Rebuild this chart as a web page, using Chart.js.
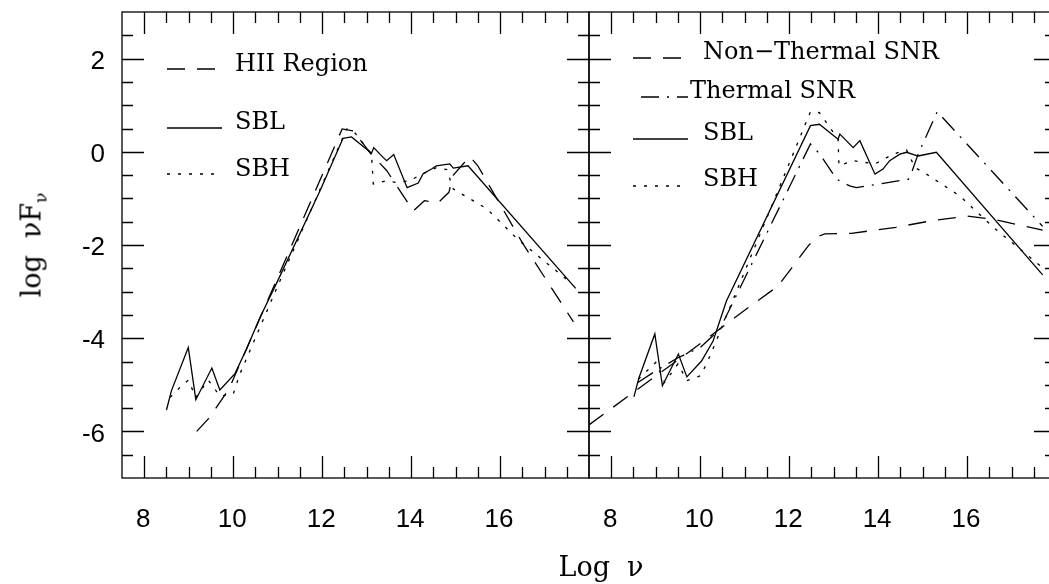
<!DOCTYPE html>
<html>
<head>
<meta charset="utf-8">
<script src="https://cdn.jsdelivr.net/npm/chart.js@4"></script>
<style>
html, body { margin: 0; padding: 0; background: #fff; overflow: hidden; }
#wrap { position: relative; width: 1049px; height: 584px; overflow: hidden; }
canvas { position: absolute; top: 0; }
#leftChart { left: 0; }
#rightChart { left: 578px; }
.title { position: absolute; font-family: "DejaVu Serif", serif; font-size: 27px; color: #000; white-space: pre; }
.title sub { font-size: 17px; vertical-align: -6px; }
#ytitle { left: 33px; top: 245px; transform: translate(-50%, -50%) rotate(-90deg); }
#xtitle { left: 601px; top: 566px; transform: translate(-50%, -50%); }
</style>
</head>
<body>
<div id="wrap">
  <canvas id="leftChart" width="600" height="584"></canvas>
  <canvas id="rightChart" width="490" height="584"></canvas>
  <div class="title" id="ytitle">log  νF<sub>ν</sub></div>
  <div class="title" id="xtitle">Log  ν</div>
</div>
<script>
// Left panel: HII region, SBL, SBH
const hiiX = [9.18, 9.45, 9.9, 11.0, 12.45, 12.7, 13.1, 13.45, 14.05, 14.3, 14.6, 14.85, 14.95, 15.32, 15.5, 16.5, 17.65];
const hiiY = [-6.0, -5.72, -5.1, -2.7, 0.49, 0.45, -0.05, -0.4, -1.27, -1.05, -1.1, -0.87, -0.5, -0.1, -0.3, -1.95, -3.65];

const sblLeftX = [8.5, 8.61, 8.99, 9.16, 9.52, 9.70, 10.04, 10.30, 10.60, 11.0, 11.95, 12.47, 12.66, 13.11, 13.16, 13.37, 13.45, 13.61, 13.91, 14.16, 14.27, 14.46, 14.57, 14.72, 14.87, 14.95, 15.28, 17.7];
const sblLeftY = [-5.54, -5.13, -4.2, -5.32, -4.64, -5.11, -4.76, -4.23, -3.56, -2.77, -0.84, 0.29, 0.32, -0.03, 0.09, -0.12, -0.19, -0.06, -0.77, -0.67, -0.47, -0.37, -0.3, -0.28, -0.26, -0.35, -0.3, -2.93];

const sbhLeftX = [8.58, 8.8, 8.99, 9.16, 9.44, 9.7, 10.0, 10.15, 10.6, 11.0, 12.55, 12.7, 13.11, 13.15, 13.45, 13.67, 13.97, 14.2, 14.57, 14.8, 14.95, 15.7, 16.4, 17.55];
const sbhLeftY = [-5.27, -5.06, -4.9, -5.27, -4.9, -5.24, -5.2, -4.77, -3.77, -2.88, 0.49, 0.45, -0.05, -0.69, -0.62, -0.66, -0.62, -0.5, -0.34, -0.38, -0.8, -1.22, -1.88, -2.78];

// Right panel: non-thermal SNR, thermal SNR, SBL, SBH
const ntX = [7.5, 8.5, 9.8, 11.0, 11.75, 12.43, 12.6, 12.8, 13.4, 14.4, 15.2, 16.0, 16.6, 17.7];
const ntY = [-5.86, -5.16, -4.26, -3.4, -2.88, -2.02, -1.84, -1.76, -1.75, -1.62, -1.48, -1.38, -1.45, -1.68];

const thX = [8.6, 9.0, 9.5, 10.0, 10.44, 12.48, 12.69, 13.07, 13.36, 13.51, 14.68, 14.77, 14.9, 15.33, 17.7];
const thY = [-4.95, -4.7, -4.42, -4.2, -3.81, 0.17, -0.05, -0.59, -0.73, -0.77, -0.59, -0.4, -0.05, 0.86, -1.6];

const sblRightX = [8.51, 8.62, 8.98, 9.15, 9.51, 9.70, 10.03, 10.29, 10.59, 12.48, 12.68, 13.10, 13.14, 13.44, 13.59, 13.93, 14.11, 14.26, 14.49, 14.64, 14.90, 15.31, 17.7];
const sblRightY = [-5.26, -4.86, -3.91, -5.02, -4.34, -4.83, -4.49, -4.06, -3.2, 0.56, 0.59, 0.27, 0.38, 0.09, 0.24, -0.48, -0.37, -0.19, -0.05, -0.01, -0.09, -0.01, -2.64];

const sbhRightX = [8.61, 9.0, 9.2, 9.5, 9.7, 10.0, 10.14, 10.33, 10.59, 12.48, 12.68, 13.1, 13.12, 13.44, 13.93, 14.34, 14.64, 14.83, 15.09, 15.84, 16.59, 17.69];
const sbhRightY = [-4.88, -4.52, -4.95, -4.55, -4.91, -4.81, -4.56, -4.13, -3.52, 0.86, 0.84, 0.27, -0.3, -0.19, -0.26, -0.05, 0.04, -0.34, -0.48, -0.95, -1.62, -2.48];

const xTickLabels = [8, 10, 12, 14, 16];
const yTickLabels = [-6, -4, -2, 0, 2];

function pts(xs, ys) {
    return xs.map((x, i) => ({ x: x, y: ys[i] }));
}

function line(label, xs, ys, dash) {
    return {
        label: label,
        data: pts(xs, ys),
        borderColor: '#000',
        borderWidth: 1.3,
        borderDash: dash,
        showLine: true,
        pointRadius: 0,
        tension: 0
    };
}

const DASH = [18, 12];
const DOT = [3, 8];
const DASHDOT = [18, 8, 2, 8];

// frame plus inward ticks on all four sides
const frameTicks = {
    id: 'frameTicks',
    afterDraw(chart) {
        const ctx = chart.ctx;
        const a = chart.chartArea;
        const x = chart.scales.x, y = chart.scales.y;
        ctx.save();
        ctx.strokeStyle = '#000';
        ctx.lineWidth = 1.3;
        ctx.setLineDash([]);
        ctx.strokeRect(a.left, a.top, a.right - a.left, a.bottom - a.top);
        ctx.beginPath();
        for (let v = x.min + 0.5; v < x.max; v += 0.5) {
            const px = Math.round(x.getPixelForValue(v)) + 0.5;
            const len = v % 2 === 0 ? 22 : 11;
            ctx.moveTo(px, a.bottom); ctx.lineTo(px, a.bottom - len);
            ctx.moveTo(px, a.top); ctx.lineTo(px, a.top + len);
        }
        for (let v = y.min + 0.5; v < y.max; v += 0.5) {
            const py = Math.round(y.getPixelForValue(v)) + 0.5;
            const len = v % 2 === 0 ? 22 : 11;
            ctx.moveTo(a.left, py); ctx.lineTo(a.left + len, py);
            ctx.moveTo(a.right, py); ctx.lineTo(a.right - len, py);
        }
        ctx.stroke();
        ctx.restore();
    }
};

// legend drawn inside the plot, one row per dataset
const inLegend = {
    id: 'inLegend',
    afterDraw(chart, args, opts) {
        const ctx = chart.ctx;
        ctx.save();
        ctx.font = '24px "DejaVu Serif"';
        ctx.fillStyle = '#000';
        ctx.strokeStyle = '#000';
        chart.data.datasets.forEach((ds, i) => {
            const r = opts.rows[i];
            ctx.lineWidth = ds.borderWidth;
            ctx.setLineDash(ds.borderDash || []);
            ctx.lineDashOffset = r.offset || 0;
            ctx.beginPath();
            ctx.moveTo(opts.x0, r.ly);
            ctx.lineTo(opts.x1, r.ly);
            ctx.stroke();
            ctx.fillText(ds.label, r.tx, r.ty);
        });
        ctx.restore();
    }
};

function makePanel(id, datasets, showY, padding, legend) {
    return new Chart(document.getElementById(id), {
        type: 'scatter',
        data: { datasets: datasets },
        options: {
            responsive: false,
            animation: false,
            layout: { padding: padding },
            plugins: {
                legend: { display: false },
                tooltip: { enabled: false },
                inLegend: legend
            },
            scales: {
                x: {
                    type: 'linear', min: 7.5, max: 18,
                    grid: { display: false, drawTicks: false },
                    border: { display: false },
                    afterBuildTicks: (s) => { s.ticks = xTickLabels.map(v => ({ value: v })); },
                    afterFit: (s) => { s.height = 106; s.paddingLeft = 0; s.paddingRight = 0; },
                    ticks: { color: '#000', padding: 26, labelOffset: -1, font: { family: 'Liberation Sans', size: 26 } }
                },
                y: {
                    type: 'linear', min: -7, max: 3,
                    display: showY,
                    grid: { display: false, drawTicks: false },
                    border: { display: false },
                    afterBuildTicks: (s) => { s.ticks = yTickLabels.map(v => ({ value: v })); },
                    afterFit: (s) => { s.width = showY ? 122 : 0; s.paddingTop = 0; s.paddingBottom = 0; },
                    ticks: { color: '#000', padding: 17, labelOffset: 3, font: { family: 'Liberation Sans', size: 26 } }
                }
            }
        },
        plugins: [frameTicks, inLegend]
    });
}

makePanel('leftChart', [
    line('HII Region', hiiX, hiiY, DASH),
    line('SBL', sblLeftX, sblLeftY, []),
    line('SBH', sbhLeftX, sbhLeftY, DOT)
], true, { left: 0, top: 12, right: 11, bottom: 0 }, {
    x0: 167, x1: 222,
    rows: [
        { ly: 69, tx: 235, ty: 71 },
        { ly: 128, tx: 235, ty: 129 },
        { ly: 174, tx: 235, ty: 176 }
    ]
});

makePanel('rightChart', [
    line('Non\u2212Thermal SNR', ntX, ntY, DASH),
    line('Thermal SNR', thX, thY, DASHDOT),
    line('SBL', sblRightX, sblRightY, []),
    line('SBH', sbhRightX, sbhRightY, DOT)
], false, { left: 11, top: 12, right: 12, bottom: 0 }, {
    x0: 55, x1: 110,
    rows: [
        { ly: 58, tx: 125, ty: 59 },
        { ly: 97, tx: 112, ty: 98, offset: 28 },
        { ly: 139, tx: 125, ty: 140 },
        { ly: 186, tx: 125, ty: 186 }
    ]
});
</script>
</body>
</html>
